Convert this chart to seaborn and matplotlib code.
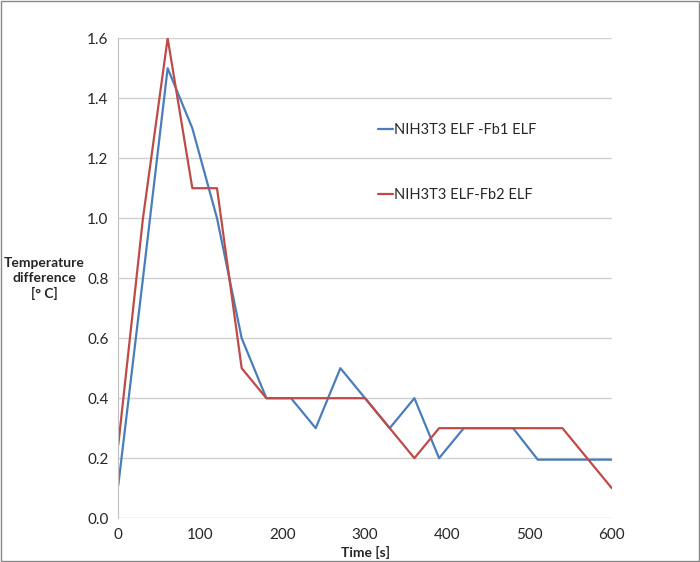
import pandas as pd
import matplotlib
matplotlib.use('Agg')
import matplotlib.pyplot as plt
import seaborn as sns

# --- data ---
time_s = [0, 30, 60, 90, 120, 150, 180, 210, 240, 270, 300, 330, 360, 390,
          420, 450, 480, 510, 540, 570, 600]
fb1 = [0.11, 0.8, 1.5, 1.3, 1.0, 0.6, 0.4, 0.4, 0.3, 0.5, 0.4, 0.3, 0.4, 0.2,
       0.3, 0.3, 0.3, 0.195, 0.195, 0.195, 0.195]
fb2 = [0.245, 1.0, 1.6, 1.1, 1.1, 0.5, 0.4, 0.4, 0.4, 0.4, 0.4, 0.3, 0.2, 0.3,
       0.3, 0.3, 0.3, 0.3, 0.3, 0.2, 0.1]
labels = ['NIH3T3 ELF -Fb1 ELF', 'NIH3T3 ELF-Fb2 ELF']

df = pd.DataFrame({'time': time_s, labels[0]: fb1, labels[1]: fb2})
df_long = df.melt(id_vars='time', var_name='series', value_name='diff')

sns.set_style('white')
plt.rcParams['font.family'] = ['Lato', 'DejaVu Sans']

fig = plt.figure(figsize=(7, 5.62), dpi=100)
ax = fig.add_axes([0.169, 0.078, 0.705, 0.854])

sns.lineplot(data=df_long, x='time', y='diff', hue='series',
             palette=['#4a7ebb', '#be4b48'], linewidth=1.6, ax=ax)

ax.set_xlim(0, 600)
ax.set_ylim(0, 1.6)
ax.set_xticks(range(0, 601, 100))
ax.set_yticks([i * 0.2 for i in range(9)])
ax.set_yticklabels([f"{i * 0.2:.1f}" for i in range(9)])
ax.tick_params(labelsize=11, length=0, pad=7)
ax.grid(axis='y', color='#d0d0d0', linewidth=1)
ax.grid(axis='x', visible=False)
for side in ['top', 'right', 'bottom']:
    ax.spines[side].set_visible(False)
ax.spines['left'].set_color('#bfbfbf')

ax.set_xlabel("Time [s]", fontweight='bold', fontsize=10)
ax.xaxis.set_label_coords(0.5, -0.058)
ax.set_ylabel("Temperature\ndifference\n[° C]", fontweight='bold', fontsize=10,
              rotation=0, ha='center', va='center', linespacing=1.3)
ax.yaxis.set_label_coords(-0.15, 0.5)

leg = ax.legend(loc='upper left', bbox_to_anchor=(0.5, 0.85), frameon=False,
                fontsize=10.5, handlelength=1.0, handletextpad=0.1,
                labelspacing=3.5)
leg.set_title(None)

fig.patches.append(plt.Rectangle((0.001, 0.001), 0.998, 0.998,
                                 transform=fig.transFigure, fill=False,
                                 edgecolor='#888888', linewidth=1))
fig.savefig('out.png', dpi=100)
